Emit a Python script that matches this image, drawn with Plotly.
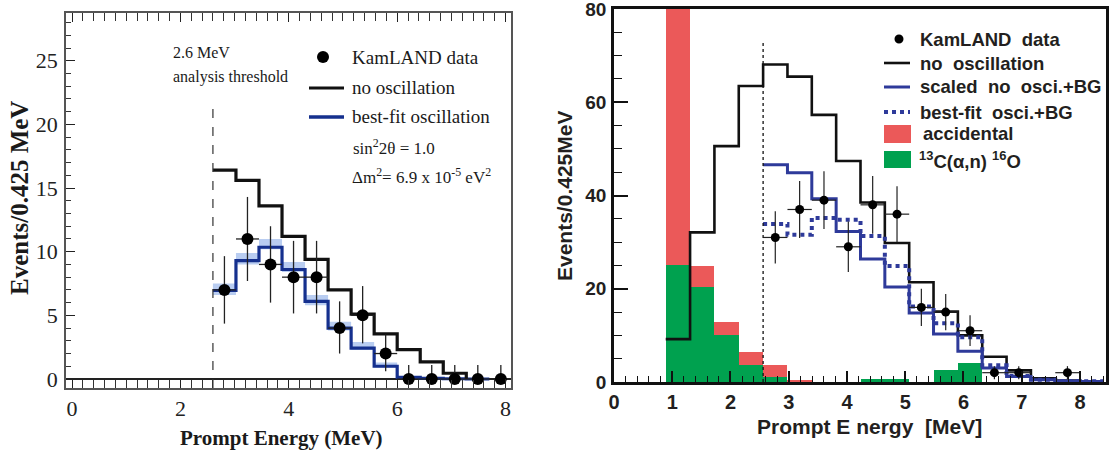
import plotly.graph_objects as go

W, H = 1110, 461

# ---------------- left panel data ----------------
L_BIN0 = 2.6          # first bin edge (MeV)
L_BINW = 0.425        # bin width (MeV)
L_THRESHOLD = 2.6
l_no_osc = [16.4, 15.6, 13.6, 11.2, 9.4, 7.0, 5.1, 3.55, 2.3, 1.35, 0.45]
l_best_fit = [6.95, 9.3, 10.35, 8.6, 6.1, 4.0, 2.43, 1.0, 0.12, 0.05, 0.02, 0.0]
l_band_lo = [6.6, 9.0, 10.2, 8.4, 5.8, 3.8, 2.3, 0.9]
l_band_hi = [7.5, 9.9, 11.0, 9.2, 6.6, 4.5, 2.9, 1.3]
l_data = [7, 11, 9, 8, 8, 4, 5, 2, 0, 0, 0, 0, 0]
l_err_up = [2.65, 3.3, 3.0, 2.85, 2.85, 2.1, 2.3, 1.5, 1.1, 1.1, 1.1, 1.1, 1.1]
l_err_dn = [2.65, 3.3, 3.0, 2.85, 2.85, 2.0, 2.2, 1.4, 0, 0, 0, 0, 0]
l_xticks = [0, 2, 4, 6, 8]
l_yticks = [0, 5, 10, 15, 20, 25]

# ---------------- right panel data ----------------
R_BIN0 = 0.888
R_BINW = 0.418
R_THRESHOLD_BIN = 4          # dotted line at left edge of this bin
r_c13 = [25, 20.3, 10.0, 3.6, 1.1, 0.15, 0, 0, 0.6, 0.75, 0, 2.5, 4.0, 0, 0, 0, 0, 0]
r_accidental = [75, 4.5, 2.8, 2.9, 2.65, 0.1, 0, 0, 0, 0, 0, 0, 0, 0, 0, 0, 0, 0]
r_no_osc = [9.2, 32.1, 50.6, 63.5, 68.1, 65.5, 57.3, 47.4, 38.5, 29.8, 21.4, 15.1,
            10.0, 5.4, 2.5, 0.8, 0.3, 0.1]
r_scaled_start = 4
r_scaled = [46.6, 44.9, 39.3, 32.3, 26.4, 20.4, 14.8, 10.3, 6.6, 3.0, 1.2, 0.5, 0.2, 0.1]
r_bestfit = [33.9, 31.6, 35.2, 34.8, 31.3, 24.9, 16.2, 12.6, 9.6, 3.6, 1.3, 0.5, 0.2, 0.15]
r_data_bin = [4, 5, 6, 7, 8, 9, 10, 11, 12, 13, 14, 16]
r_data = [31, 37, 39, 29, 38, 36, 16, 15, 11, 2, 2, 2]
r_err = [5.6, 6.1, 6.2, 5.4, 6.2, 6.0, 4.0, 3.9, 3.3, 1.4, 1.4, 1.4]
r_xticks = [0, 1, 2, 3, 4, 5, 6, 7, 8]
r_yticks = [0, 20, 40, 60, 80]

# ---------------- colours ----------------
NAVY = "#15308e"
BAND = "#b9cdf1"
RBLUE = "#2e3a9a"
RED = "#eb5959"
GREEN = "#00a14f"
SERIF = "Liberation Serif"
SANS = "Liberation Sans"


def step_xy(x0, w, vals, end_zero=False):
    xs = [x0 + i * w for i in range(len(vals) + 1)]
    ys = list(vals) + [0 if end_zero else vals[-1]]
    return xs, ys


def px(x):
    return x / W


def py(y):
    return 1 - y / H


fig = go.Figure()

# ===== left panel =====
lx_lo, ly_lo = step_xy(L_BIN0, L_BINW, l_band_lo)
lx_hi, ly_hi = step_xy(L_BIN0, L_BINW, l_band_hi)
fig.add_trace(go.Scatter(x=lx_lo, y=ly_lo, mode="lines", line=dict(width=0, shape="hv", color=BAND),
                         xaxis="x", yaxis="y", showlegend=False, hoverinfo="skip"))
fig.add_trace(go.Scatter(x=lx_hi, y=ly_hi, mode="lines", line=dict(width=0, shape="hv", color=BAND),
                         fill="tonexty", fillcolor=BAND, xaxis="x", yaxis="y", showlegend=False,
                         hoverinfo="skip"))
bx, by = step_xy(L_BIN0, L_BINW, l_best_fit)
fig.add_trace(go.Scatter(x=bx, y=by, mode="lines", line=dict(color=NAVY, width=3.2, shape="hv"),
                         xaxis="x", yaxis="y", showlegend=False))
nx, ny = step_xy(L_BIN0, L_BINW, l_no_osc, end_zero=True)
fig.add_trace(go.Scatter(x=nx, y=ny, mode="lines", line=dict(color="#111111", width=3.2, shape="hv"),
                         xaxis="x", yaxis="y", showlegend=False))
l_centers = [L_BIN0 + (i + 0.5) * L_BINW for i in range(len(l_data))]
fig.add_trace(go.Scatter(
    x=l_centers, y=l_data, mode="markers",
    marker=dict(color="black", size=12),
    error_y=dict(type="data", array=l_err_up, arrayminus=l_err_dn, color="#222", thickness=1.3, width=0),
    error_x=dict(type="constant", value=L_BINW / 2, color="#222", thickness=1.3, width=0),
    xaxis="x", yaxis="y", showlegend=False))

# ===== right panel =====
r_centers_all = [R_BIN0 + (i + 0.5) * R_BINW for i in range(len(r_c13))]
fig.add_trace(go.Bar(x=r_centers_all, y=r_c13, width=R_BINW, marker=dict(color=GREEN, line=dict(width=0)),
                     xaxis="x2", yaxis="y2", showlegend=False))
fig.add_trace(go.Bar(x=r_centers_all, y=r_accidental, width=R_BINW, marker=dict(color=RED, line=dict(width=0)),
                     xaxis="x2", yaxis="y2", showlegend=False))
rnx, rny = step_xy(R_BIN0, R_BINW, r_no_osc)
fig.add_trace(go.Scatter(x=rnx, y=rny, mode="lines", line=dict(color="#111111", width=2.6, shape="hv"),
                         xaxis="x2", yaxis="y2", showlegend=False))
s0 = R_BIN0 + r_scaled_start * R_BINW
rsx, rsy = step_xy(s0, R_BINW, r_scaled)
fig.add_trace(go.Scatter(x=rsx, y=rsy, mode="lines", line=dict(color=RBLUE, width=3, shape="hv"),
                         xaxis="x2", yaxis="y2", showlegend=False))
rbx, rby = step_xy(s0, R_BINW, r_bestfit)
fig.add_trace(go.Scatter(x=rbx, y=rby, mode="lines", line=dict(color=RBLUE, width=4, shape="hv", dash="dot"),
                         xaxis="x2", yaxis="y2", showlegend=False))
r_centers = [R_BIN0 + (k + 0.5) * R_BINW for k in r_data_bin]
fig.add_trace(go.Scatter(
    x=r_centers, y=r_data, mode="markers",
    marker=dict(color="black", size=9),
    error_y=dict(type="data", array=r_err, color="#222", thickness=1.2, width=0),
    error_x=dict(type="constant", value=R_BINW / 2, color="#222", thickness=1.2, width=0),
    xaxis="x2", yaxis="y2", showlegend=False))

shapes = []
# threshold lines
shapes.append(dict(type="line", xref="x", yref="y", x0=L_THRESHOLD, x1=L_THRESHOLD, y0=-0.7, y1=21.8,
                   line=dict(color="#333", width=1.2, dash="dash")))
r_thr = R_BIN0 + R_THRESHOLD_BIN * R_BINW
shapes.append(dict(type="line", xref="x2", yref="y2", x0=r_thr, x1=r_thr, y0=0, y1=73,
                   line=dict(color="#111", width=1.3, dash="dot")))

# left legend symbols
shapes.append(dict(type="circle", xref="paper", yref="paper", x0=px(317), x1=px(329), y0=py(63), y1=py(51),
                   fillcolor="black", line=dict(width=0)))
shapes.append(dict(type="line", xref="paper", yref="paper", x0=px(309), x1=px(344), y0=py(88), y1=py(88),
                   line=dict(color="#111", width=3.2)))
shapes.append(dict(type="line", xref="paper", yref="paper", x0=px(309), x1=px(344), y0=py(117), y1=py(117),
                   line=dict(color=NAVY, width=3.6)))
# right legend symbols
shapes.append(dict(type="circle", xref="paper", yref="paper", x0=px(894.5), x1=px(903.5), y0=py(43.5), y1=py(34.5),
                   fillcolor="black", line=dict(width=0)))
shapes.append(dict(type="line", xref="paper", yref="paper", x0=px(884), x1=px(910), y0=py(63), y1=py(63),
                   line=dict(color="#111", width=2.6)))
shapes.append(dict(type="line", xref="paper", yref="paper", x0=px(884), x1=px(910), y0=py(87), y1=py(87),
                   line=dict(color=RBLUE, width=3)))
shapes.append(dict(type="line", xref="paper", yref="paper", x0=px(884), x1=px(910), y0=py(112), y1=py(112),
                   line=dict(color=RBLUE, width=4, dash="dot")))
shapes.append(dict(type="rect", xref="paper", yref="paper", x0=px(884), x1=px(911), y0=py(143), y1=py(125),
                   fillcolor=RED, line=dict(width=0)))
shapes.append(dict(type="rect", xref="paper", yref="paper", x0=px(884), x1=px(911), y0=py(168), y1=py(151),
                   fillcolor=GREEN, line=dict(width=0)))

anns = []


def ann(text, x, y, size, family, bold=False, xanchor="left", angle=0, color="#1a1a1a"):
    anns.append(dict(text=text, x=px(x), y=py(y), xref="paper", yref="paper", showarrow=False,
                     xanchor=xanchor, yanchor="middle", textangle=angle,
                     font=dict(size=size, family=family, color=color, weight="bold" if bold else "normal")))


# left texts
ann("2.6 MeV", 171, 53, 16, SERIF)
ann("analysis threshold", 171, 77, 16, SERIF)
ann("KamLAND data", 350, 57, 19, SERIF)
ann("no oscillation", 350, 88, 19, SERIF)
ann("best-fit oscillation", 350, 117, 19, SERIF)
ann("sin<sup>2</sup>2θ = 1.0", 351, 147, 17, SERIF)
ann("Δm<sup>2</sup>= 6.9 x 10<sup>-5</sup> eV<sup>2</sup>", 350, 176, 17, SERIF)
ann("Events/0.425 MeV", 20, 198, 25, SERIF, bold=True, xanchor="center", angle=-90)
ann("Prompt Energy (MeV)", 281, 438, 21, SERIF, bold=True, xanchor="center")

# right texts
RT = "#231f20"
ann("KamLAND\u00a0\u00a0data", 918, 39, 18.5, SANS, bold=True, color=RT)
ann("no\u00a0\u00a0oscillation", 918, 63, 18.5, SANS, bold=True, color=RT)
ann("scaled\u00a0\u00a0no\u00a0\u00a0osci.+BG", 918, 87, 18.5, SANS, bold=True, color=RT)
ann("best-fit\u00a0\u00a0osci.+BG", 918, 112, 18.5, SANS, bold=True, color=RT)
ann("accidental", 921, 134, 18.5, SANS, bold=True, color=RT)
ann("<sup>13</sup>C(α,n)\u00a0<sup>16</sup>O", 917, 160, 18.5, SANS, bold=True, color=RT)
ann("Events/0.425MeV", 564, 196, 21, SANS, bold=True, xanchor="center", angle=-90, color=RT)
ann("Prompt\u00a0E\u00a0nergy\u00a0\u00a0[MeV]", 869, 426, 21, SANS, bold=True, xanchor="center", color=RT)

# axes geometry (pixels)
LX0, LX1, LY0, LY1 = 66, 511, 13, 388
RX0, RX1, RY0, RY1 = 614, 1106, 9, 382

fig.update_layout(
    width=W, height=H, autosize=False,
    margin=dict(l=0, r=0, t=0, b=0, pad=0, autoexpand=False),
    paper_bgcolor="white", plot_bgcolor="white",
    showlegend=False,
    barmode="stack", bargap=0,
    shapes=shapes, annotations=anns,
    xaxis=dict(domain=[px(LX0), px(LX1)], range=[-0.111, 8.1], tickvals=l_xticks,
               ticks="inside", ticklen=9, tickwidth=1.2, tickcolor="#222",
               minor=dict(dtick=0.2, tick0=0, ticks="inside", ticklen=8, tickwidth=1, tickcolor="#333"),
               showline=True, linecolor="#555", linewidth=1.5, mirror="ticks",
               showgrid=False, zeroline=False, automargin=False,
               tickfont=dict(family=SERIF, size=22, color="#222")),
    yaxis=dict(domain=[py(LY1), py(LY0)], range=[-0.707, 28.75], tickvals=l_yticks,
               ticks="inside", ticklen=9, tickwidth=1.2, tickcolor="#222",
               minor=dict(dtick=1, tick0=0, ticks="inside", ticklen=5, tickwidth=1, tickcolor="#333"),
               showline=True, linecolor="#555", linewidth=1.5, mirror=True,
               showgrid=False, zeroline=True, zerolinecolor="#222", zerolinewidth=1.6,
               automargin=False, ticklabelstandoff=2,
               tickfont=dict(family=SERIF, size=22, color="#222")),
    xaxis2=dict(domain=[px(RX0), px(RX1)], range=[0, 8.447], tickvals=r_xticks, anchor="y2",
                ticks="inside", ticklen=11, tickwidth=1.6, tickcolor="#111",
                minor=dict(dtick=0.2, tick0=0, ticks="inside", ticklen=6, tickwidth=1.2, tickcolor="#111"),
                showline=True, linecolor="#111", linewidth=2.5, mirror=True,
                showgrid=False, zeroline=False, automargin=False,
                tickfont=dict(family=SANS, size=20, color=RT, weight="bold")),
    yaxis2=dict(domain=[py(RY1), py(RY0)], range=[0, 80], tickvals=r_yticks, anchor="x2",
                ticks="inside", ticklen=14, tickwidth=1.6, tickcolor="#111",
                minor=dict(dtick=5, tick0=0, ticks="inside", ticklen=8, tickwidth=1.2, tickcolor="#111"),
                showline=True, linecolor="#111", linewidth=2.5, mirror=True,
                showgrid=False, zeroline=False, automargin=False, ticklabeloverflow="allow",
                ticklabelstandoff=1,
                tickfont=dict(family=SANS, size=19, color=RT, weight="bold")),
)

# remove the browser's default 8px page margin so the figure sits at the window's corner
fig.write_html("out.html", config={"displayModeBar": False},
               post_script="document.body.style.margin='0';")
